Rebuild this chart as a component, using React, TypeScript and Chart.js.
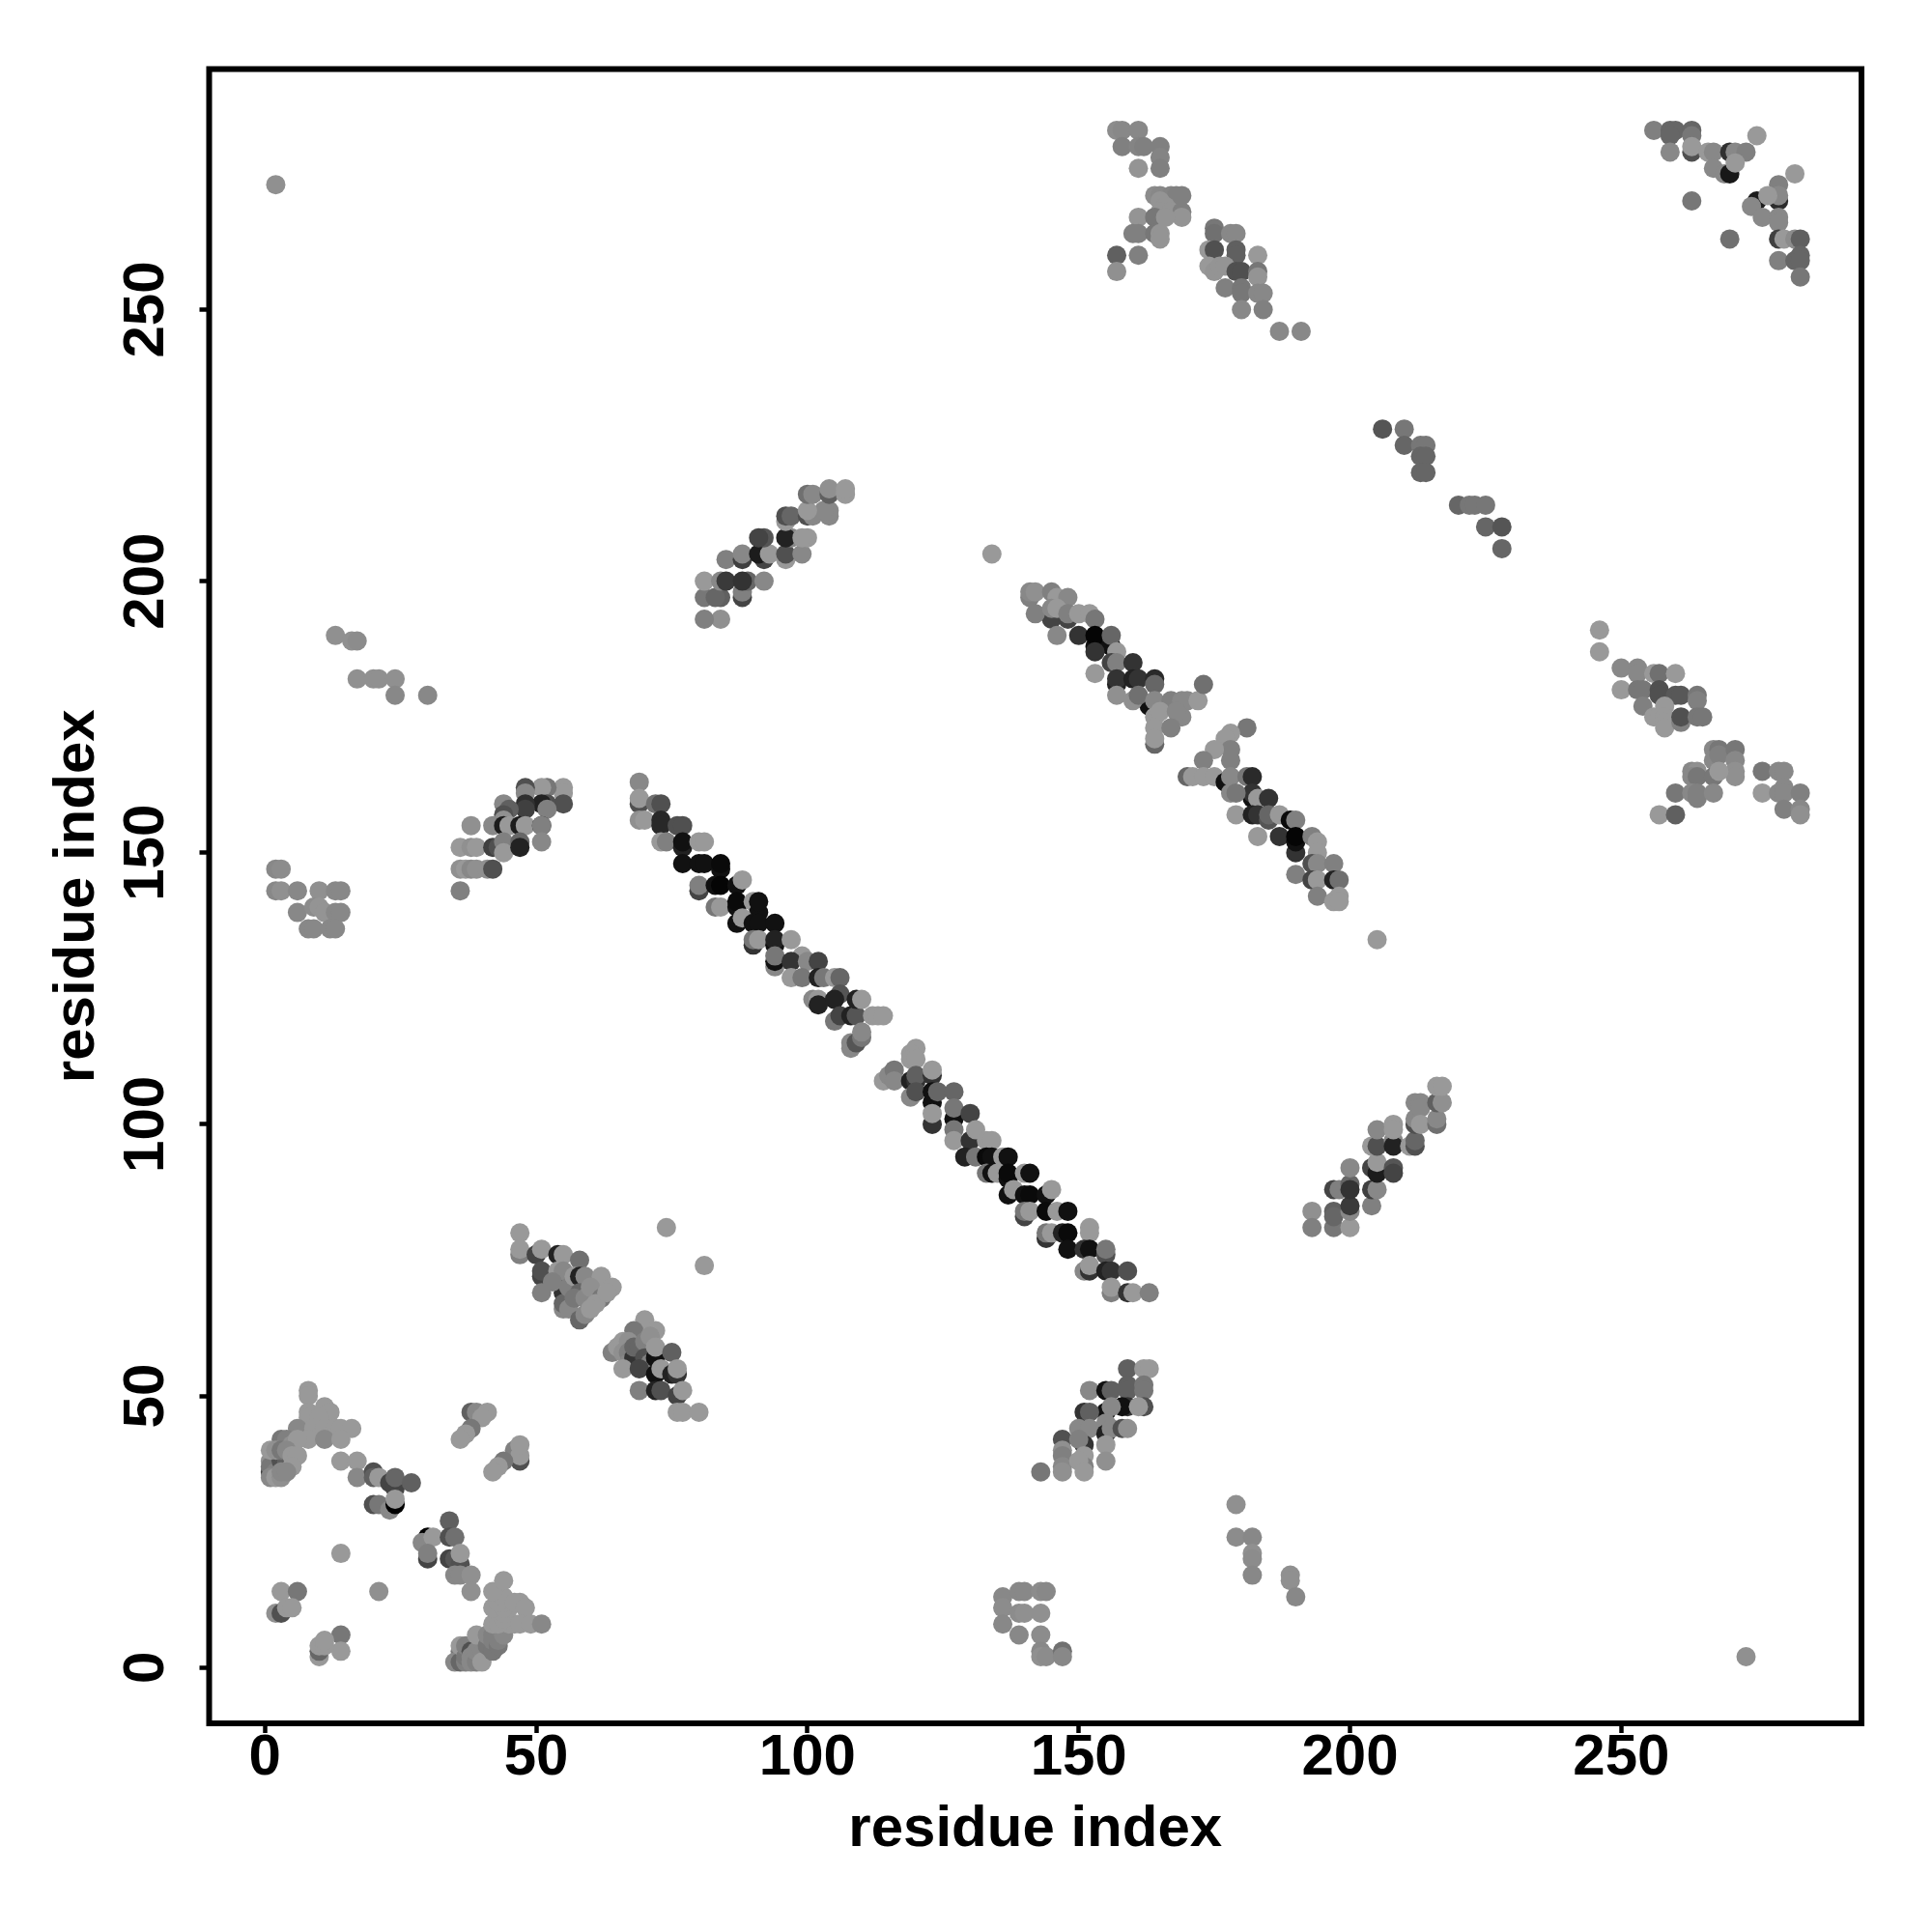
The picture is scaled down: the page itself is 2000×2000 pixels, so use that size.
import React, { useEffect, useRef } from "react";
import { Chart, registerables } from "chart.js";

Chart.register(...registerables);

// Each contact: [residue i, residue j, grey level]
type Contact = [number, number, number];

const xTickValues = [0, 50, 100, 150, 200, 250];
const yTickValues = [0, 50, 100, 150, 200, 250];
const axisLabel = "residue index";

const isolated: Contact[] = [[2,273,144],[273,2,144],[134,205,153],[205,134,153],[74,81,153],[81,74,153]];

const topMiddleA: Contact[] = [[157,283,140],[158,283,136],[161,283,136],[158,280,128],[161,280,132],[162,280,128],[165,280,128],[165,278,132],[161,276,148],[165,276,128],
[164,271,140],[165,271,136],[167,271,132],[168,271,128],[169,271,128],[165,270,148],[166,269,148],[165,268,148],[167,268,148],[169,268,128],[169,267,148],[161,267,148],[164,267,119],[166,267,148],[160,264,128],[161,264,128],[164,264,119],[165,264,148],[165,263,148],[161,260,128],[157,260,96],[157,257,144]];

const topMiddleB: Contact[] = [[175,265,119],[175,264,112],[178,264,136],[179,264,136],[174,261,153],[175,261,80],[179,261,96],[179,260,96],[183,260,153],[174,258,153],[175,257,148],[176,258,148],[177,258,148],[179,257,80],[180,257,80],[183,257,119],[183,256,148],[177,254,128],[180,254,119],[180,253,119],[183,253,136],[184,253,136],[180,250,136],[184,250,128],[187,246,136],[191,246,136]];

const topRight: Contact[] = [[256,283,128],[259,283,102],[260,283,102],[259,282,102],[263,279,80],[263,283,102],[263,282,119],[263,280,153],[259,279,136],[266,279,153],[267,279,136],[270,279,48],[271,279,136],[273,279,128],[275,282,153],[267,276,136],[269,275,136],[270,275,24],[271,277,153],[263,270,119],[270,263,112],[282,275,153],[279,273,128],[279,270,44],[279,271,136],[275,270,28],[277,271,153],[274,269,136],[276,267,136],[279,267,136],[279,266,136],[279,263,64],[280,263,153],[282,263,140],[283,263,96],[279,259,128],[282,259,102],[283,260,102],[283,259,102],[283,256,119]];

const rightA: Contact[] = [[246,191,153],[246,187,153],[250,184,136],[253,184,136],[253,183,136],[256,183,153],[257,183,112],[260,183,153],[250,180,153],[253,180,119],[254,180,119],[257,180,80],[257,179,80],[260,179,88],[261,179,88],[264,179,119],[264,178,128],[254,177,128],[256,175,153],[257,175,153],[258,177,153],[258,175,153],[258,174,153],[258,173,153],[261,174,128],[261,175,80],[264,175,119],[265,175,119]];

const rightB: Contact[] = [[267,169,136],[268,169,119],[267,167,136],[268,168,128],[271,169,119],[271,167,136],[271,165,144],[271,164,144],[263,165,136],[264,165,144],[263,164,136],[264,164,119],[267,164,119],[268,165,153],[260,161,119],[263,161,136],[264,161,128],[264,160,128],[267,161,136],[257,157,153],[260,157,96]];

const rightC: Contact[] = [[276,165,119],[279,165,136],[280,165,136],[276,161,153],[279,161,136],[280,162,136],[280,161,136],[283,161,128],[280,158,128],[283,158,136],[283,157,144]];

const leftUpper: Contact[] = [[55,162,153],[55,161,153],[55,159,80],[52,162,119],[51,162,153],[48,162,80],[48,161,136],[52,159,80],[51,159,34],[52,158,128],[48,159,48],[48,158,64],[44,159,136],[45,158,96],[44,157,80],[44,156,144],[42,155,136],[44,155,28],[45,155,153],[47,155,28],[48,155,153],[51,155,34],[51,155,128],[38,155,144],[36,151,153],[38,151,144],[39,151,153],[42,151,64],[43,151,80],[44,152,128],[44,150,153],[47,152,102],[47,151,34],[51,152,136],[36,147,144],[37,147,153],[38,147,136],[39,147,144],[41,147,144],[42,147,80],[36,143,128]];

const lowerBeta: Contact[] = [[159,55,96],[162,55,153],[163,55,153],[159,52,96],[159,51,96],[162,52,119],[162,51,119],[152,51,136],[155,51,17],[156,51,96],[159,48,51],[158,48,17],[162,48,80],[161,48,153],[155,47,17],[156,48,136],[155,44,136],[151,47,51],[152,47,96],[155,45,136],[150,44,136],[152,44,136],[155,43,34],[156,44,136],[158,44,80],[159,44,144],[147,42,80],[151,41,51],[150,42,128],[155,41,153],[147,40,144],[147,39,128],[147,37,136],[147,36,144],[151,39,153],[151,37,128],[150,38,153],[151,36,153],[155,38,144],[143,36,119]];

const rightBeta: Contact[] = [[193,84,144],[193,81,128],[197,81,119],[200,81,153],[197,84,96],[197,83,102],[200,84,136],[200,85,58],[197,88,68],[198,88,128],[200,89,102],[200,88,51],[200,92,136],[204,85,128],[204,88,64],[205,88,136],[204,92,68],[205,91,28],[205,93,153],[208,92,85],[208,91,68],[204,96,153],[205,96,80],[208,97,136],[208,96,34],[205,99,136],[208,100,153],[208,99,153],[211,96,153],[212,96,80],[212,97,102],[212,100,80],[212,101,136],[212,104,136],[213,104,136],[213,103,136],[213,100,153],[216,100,112],[216,101,136],[216,104,96],[217,104,144],[216,107,153],[217,107,153]];

const upperBeta: Contact[] = [[84,193,144],[81,193,128],[81,197,119],[81,200,153],[84,197,96],[83,197,102],[84,200,136],[85,200,58],[88,197,68],[88,198,128],[89,200,102],[88,200,51],[92,200,136],[85,204,128],[88,204,64],[88,205,136],[92,204,68],[91,205,28],[93,205,153],[92,208,85],[91,208,68],[96,204,153],[96,205,80],[97,208,136],[96,208,34],[99,205,136],[100,208,153],[99,208,153],[96,211,153],[96,212,80],[97,212,102],[100,212,80],[101,212,136],[104,212,136],[104,213,136],[103,213,136],[100,213,153],[100,216,112],[101,216,136],[104,216,96],[104,217,144],[107,216,153],[107,217,153]];

const mainBandA: Contact[] = [[69,163,136],[69,159,80],[69,160,153],[72,159,112],[73,159,80],[69,156,144],[70,156,153],[73,156,40],[73,155,40],[76,155,80],[77,155,80],[73,152,153],[74,152,128],[77,151,34],[77,152,17],[80,152,153],[81,152,153],[77,148,17],[80,148,17],[81,148,17],[84,147,17],[84,148,10],[80,143,68],[80,144,128],[83,144,17],[84,144,5],[87,144,17],[88,145,153],[83,140,119],[84,140,153],[87,140,17],[87,141,10],[90,141,153],[91,139,17],[91,141,17],[87,137,17],[88,138,153],[90,137,17],[91,137,17],[94,137,17],[90,133,51],[90,134,119],[91,134,153],[94,133,17],[94,134,34],[97,134,153],[94,129,136],[94,130,17],[94,131,119],[99,131,153],[97,130,51],[97,127,153],[100,130,136],[102,130,68],[99,127,119],[102,127,34],[103,127,119],[105,127,153],[106,127,102],[106,124,85],[101,123,136],[102,123,153],[102,122,34],[105,123,34],[105,119,119],[106,120,68],[108,120,34],[109,120,85],[109,123,34],[110,123,153],[108,114,136],[108,115,136],[109,115,85],[110,116,119],[110,117,136],[112,120,153],[113,120,153],[114,120,153]];

const mainBandB: Contact[] = [[114,108,153],[115,109,136],[116,110,119],[116,108,136],[120,114,153],[119,113,153],[119,112,153],[120,112,153],[119,108,34],[120,108,51],[120,109,96],[123,109,51],[123,110,153],[119,105,136],[120,106,80],[123,104,17],[123,106,17],[124,106,102],[127,106,102],[127,101,17],[127,103,119],[123,100,51],[123,102,153],[130,102,68],[127,99,119],[127,97,153],[130,97,51],[131,99,153],[133,97,153],[134,97,153],[129,94,34],[131,94,119],[133,94,10],[134,94,17],[136,94,153],[137,94,17],[133,91,119],[134,91,17],[135,91,153],[137,90,17],[137,91,10],[140,91,153],[141,91,17],[137,87,17],[138,88,153],[140,87,17],[141,87,10],[144,87,17],[145,88,153],[140,83,68],[140,84,119],[141,84,153],[144,84,10],[146,84,153],[148,84,17],[144,79,51],[144,80,119],[145,80,153],[147,80,34],[148,80,10],[152,81,153],[152,80,153],[148,77,17],[151,77,51],[152,77,17],[155,76,80],[155,77,119],[151,73,136],[152,73,51],[152,74,153],[155,73,34],[156,73,51],[159,73,80],[156,69,128],[156,70,153],[159,69,51],[160,69,153],[163,69,128]];

const secondBandA: Contact[] = [[141,197,128],[141,198,136],[142,198,144],[145,193,68],[145,198,128],[142,194,128],[146,197,153],[148,193,68],[148,197,136],[145,195,136],[146,195,153],[146,190,136],[148,194,128],[150,194,153],[152,194,153],[153,193,119],[150,190,51],[153,188,17],[153,190,5],[156,188,17],[156,190,102],[153,187,51],[157,187,153],[156,185,68],[157,185,128],[160,185,51],[157,181,34],[157,182,51],[153,183,153],[160,182,34],[161,182,51],[164,182,42],[164,181,102],[163,177,17],[157,179,144],[160,178,144],[161,179,112],[164,178,136],[167,178,128],[169,178,136],[170,178,136],[172,178,153],[173,181,112],[164,175,153],[165,176,153],[169,175,136],[168,176,136],[164,170,102],[164,173,153],[167,173,128],[164,171,153]];

const secondBandB: Contact[] = [[181,173,119],[178,172,153],[177,171,153],[178,169,128],[175,169,153],[178,167,128],[173,167,128],[170,164,102],[171,164,153],[173,164,153],[175,164,153],[177,163,17],[178,164,136],[181,164,119],[182,164,42],[182,160,17],[182,161,51],[183,160,153],[185,160,51],[178,161,136],[179,161,119],[179,157,153],[182,157,34],[183,157,51],[185,156,85],[185,157,102],[187,157,153],[189,156,10],[190,156,128],[183,153,153],[187,153,51],[190,150,51],[190,152,17],[190,153,5],[193,153,128],[194,152,153],[194,150,153],[193,148,80],[194,148,136],[197,148,128],[190,146,128],[193,145,68],[194,145,153],[197,145,34],[198,145,112],[194,142,128],[197,141,153],[198,142,153],[198,141,153]];

const sheetA: Contact[] = [[47,80,153],[47,76,128],[47,77,153],[50,76,68],[51,77,153],[54,76,34],[55,76,153],[58,75,112],[51,72,68],[51,73,80],[51,69,128],[54,72,34],[54,73,153],[55,73,136],[55,69,51],[55,66,136],[55,67,102],[56,70,128],[53,71,128],[57,72,153],[58,72,34],[59,72,136],[62,72,153],[64,70,153],[58,69,102],[56,66,136],[57,68,119],[60,68,128],[59,68,136],[60,70,144],[62,68,119],[61,67,153],[58,64,102],[59,65,136],[60,66,153],[63,69,153]];

const sheetB: Contact[] = [[70,64,153],[68,62,119],[72,62,153],[64,58,128],[65,59,153],[66,60,153],[66,58,144],[67,60,144],[67,58,128],[67,56,136],[68,57,51],[68,59,102],[69,59,102],[70,60,128],[71,61,144],[70,57,80],[71,56,128],[72,57,17],[72,59,153],[75,58,96],[66,55,153],[69,55,68],[72,54,17],[73,55,153],[75,54,34],[76,54,51],[76,55,153],[69,51,128],[72,51,34],[73,51,80],[76,50,68],[77,51,153],[76,47,153],[77,47,153],[80,47,153]];

const nTermCluster: Contact[] = [[8,51,153],[8,50,153],[8,47,153],[11,48,153],[12,47,153],[8,46,153],[10,46,153],[6,44,136],[9,44,153],[11,44,153],[13,44,153],[14,44,153],[16,44,153],[8,42,153],[11,42,136],[14,42,153],[3,42,119],[4,42,128],[5,41,144],[6,42,153],[1,38,144],[1,36,68],[1,37,119],[2,38,119],[2,36,128],[3,38,80],[4,38,96],[1,40,153],[2,40,144],[3,40,119],[4,40,136],[5,39,153],[6,39,153],[5,37,153],[1,35,136],[2,35,153],[3,35,144],[3,36,136],[4,36,136]];

const nTermStrand: Contact[] = [[14,38,153],[17,38,153],[17,35,136],[20,36,80],[20,35,96],[21,35,153],[23,34,68],[24,33,68],[24,35,102],[27,34,96],[20,30,80],[21,30,119],[23,29,136],[24,30,0],[24,31,153],[34,27,96],[30,24,0],[29,23,136],[31,24,153],[30,20,68],[30,21,128],[34,20,68],[35,20,85],[34,24,80],[35,24,112],[36,19,80],[36,21,153],[35,17,136],[36,17,136],[38,17,144],[38,14,144]];

const smallIslands: Contact[] = [[14,21,153],[3,14,153],[6,14,119],[2,10,144],[3,10,80],[4,11,153],[5,11,153],[21,14,144],[14,6,119],[14,3,153],[10,2,153],[10,3,102],[10,4,153],[11,4,153],[11,5,153],[38,47,96],[39,47,136],[41,47,153],[40,46,153],[38,44,119],[37,43,153],[36,42,153],[46,40,128],[47,38,80],[47,39,153],[47,41,153],[44,38,119],[43,37,153],[42,36,153]];

const bottomCluster: Contact[] = [[36,3,119],[35,1,136],[36,1,102],[36,4,153],[37,1,128],[37,2,119],[37,4,128],[38,3,80],[38,2,136],[38,1,136],[39,1,128],[39,3,136],[40,3,136],[40,1,153],[40,5,136],[39,6,153],[41,4,119],[41,6,136],[42,3,119],[42,5,128],[42,6,128],[43,4,119],[43,5,128],[44,6,136],[42,8,153],[43,8,153],[45,8,153],[46,8,153],[44,9,153],[44,10,153],[42,11,153],[45,11,153],[44,11,153],[44,12,153],[43,12,153],[44,13,153],[42,14,153],[44,16,153],[47,12,153],[46,12,153],[48,11,153],[47,8,153],[49,8,153],[51,8,136]];

const leftMirrorCluster: Contact[] = [[2,147,136],[3,147,140],[2,143,136],[3,143,144],[6,143,136],[10,143,144],[13,143,136],[14,143,136],[6,139,136],[9,140,140],[10,140,148],[11,139,148],[13,139,136],[14,139,136],[8,136,136],[9,136,136],[12,136,136],[13,136,136]];

const bottomMirrorCluster: Contact[] = [[136,13,136],[136,11,140],[136,8,136],[139,14,136],[140,14,136],[143,14,140],[144,14,136],[139,10,140],[140,10,144],[143,10,144],[139,6,136],[143,6,140],[143,3,136],[143,2,144],[144,2,140],[147,3,112],[147,2,136]];

const farStrandA: Contact[] = [[13,190,144],[16,189,144],[17,189,140],[17,182,144],[20,182,144],[21,182,144],[24,182,144],[24,179,136],[30,179,136]];
const farStrandB: Contact[] = [[179,30,144],[179,24,140],[182,24,136],[182,21,144],[182,20,140],[182,17,136],[189,17,144],[189,16,144],[190,13,136]];
const farStrandC: Contact[] = [[206,228,85],[210,228,119],[210,225,102],[213,225,119],[214,225,119],[213,223,102],[214,223,102],[213,220,102],[214,220,102],[220,214,102],[222,214,119],[223,214,119],[225,214,119],[225,210,102],[228,210,85],[228,206,102]];

const contacts: Contact[] = [
  ...nTermCluster, ...nTermStrand, ...smallIslands, ...bottomCluster, ...leftMirrorCluster, ...bottomMirrorCluster,
  ...farStrandA, ...farStrandB, ...farStrandC, ...isolated, ...sheetA, ...sheetB, ...mainBandA, ...mainBandB,
  ...secondBandA, ...secondBandB, ...leftUpper, ...lowerBeta, ...rightBeta, ...upperBeta,
  ...topMiddleA, ...topMiddleB, ...topRight, ...rightA, ...rightB, ...rightC,
];

const FONT = "'Liberation Sans', Arial, sans-serif";

const framePlugin = {
  id: "frame",
  afterDatasetsDraw(chart: any) {
    const { ctx, chartArea: a } = chart;
    ctx.save();
    ctx.lineWidth = 6;
    ctx.strokeStyle = "#000";
    ctx.lineJoin = "miter";
    ctx.strokeRect(a.left, a.top, a.right - a.left, a.bottom - a.top);
    ctx.restore();
  },
};

export default function App() {
  const ref = useRef<HTMLCanvasElement | null>(null);
  useEffect(() => {
    document.body.style.margin = "0";
    document.body.style.background = "#fff";
    const chart = new Chart(ref.current as HTMLCanvasElement, {
      type: "scatter",
      data: {
        datasets: [
          {
            data: contacts.map(([x, y]) => ({ x, y })),
            pointRadius: 10,
            pointHoverRadius: 10,
            pointBorderWidth: 0,
            pointBackgroundColor: contacts.map(([, , g]) => `rgb(${g},${g},${g})`),
          },
        ],
      },
      options: {
        animation: false,
        responsive: false,
        devicePixelRatio: 1,
        layout: { padding: { top: 71.5, right: 73, left: 0, bottom: 0 } },
        plugins: { legend: { display: false }, tooltip: { enabled: false } },
        scales: {
          x: {
            type: "linear",
            min: -10.28,
            max: 294.28,
            afterBuildTicks: (s: any) => { s.ticks = xTickValues.map((value) => ({ value })); },
            afterFit: (s: any) => { s.height = 216; },
            border: { display: false },
            grid: { drawOnChartArea: false, drawTicks: true, tickLength: 10, tickWidth: 4.5, tickColor: "#000" },
            ticks: { color: "#000", font: { family: FONT, weight: "bold", size: 60 }, padding: -9.5, maxRotation: 0, autoSkip: false },
            title: { display: true, text: axisLabel, color: "#000", font: { family: FONT, weight: "bold", size: 60, lineHeight: 1 }, padding: { top: 0, bottom: 76 } },
          },
          y: {
            type: "linear",
            min: -10.28,
            max: 294.28,
            afterBuildTicks: (s: any) => { s.ticks = yTickValues.map((value) => ({ value })); },
            afterFit: (s: any) => { s.width = 216.5; },
            border: { display: false },
            grid: { drawOnChartArea: false, drawTicks: true, tickLength: 10, tickWidth: 4.5, tickColor: "#000" },
            ticks: { color: "#000", font: { family: FONT, weight: "bold", size: 60 }, padding: 4, minRotation: 90, maxRotation: 90, crossAlign: "center", autoSkip: false },
            title: { display: true, text: axisLabel, color: "#000", font: { family: FONT, weight: "bold", size: 60, lineHeight: 1 }, padding: { top: 50, bottom: 0 } },
          },
        },
      },
      plugins: [framePlugin],
    } as any);
    return () => chart.destroy();
  }, []);
  return <canvas ref={ref} width={2000} height={2000} style={{ display: "block" }} />;
}
